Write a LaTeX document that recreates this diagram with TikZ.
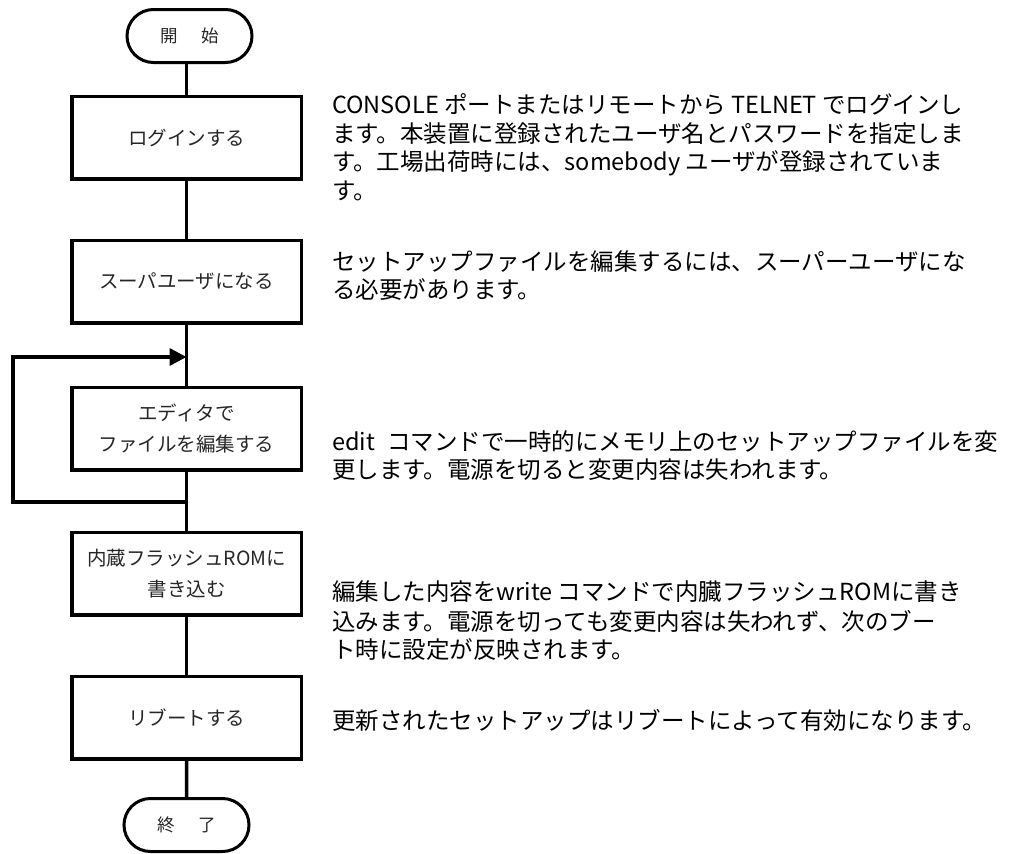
\documentclass[tikz,border=0pt]{standalone}
\usepackage{fontspec}
\setmainfont{Noto Sans CJK JP}
\usetikzlibrary{arrows.meta,shapes.misc}
\begin{document}
\begin{tikzpicture}[x=1pt,y=-1pt,
  line/.style={line width=3.5pt},
  procbox/.style={draw,line width=3.5pt,minimum width=229.5pt,minimum height=82.5pt,
     inner sep=0pt,font=\fontsize{19.5}{31}\selectfont,text=black!85,align=center},
  term/.style={draw,line width=3pt,rounded rectangle,minimum width=125pt,minimum height=53pt,
     inner sep=0pt,font=\fontsize{17.5}{20}\selectfont,text=black!85},
  desc/.style={anchor=west,inner sep=0pt,font=\fontsize{23.5}{26}\selectfont}]
\useasboundingbox (0,0) rectangle (1015,854);
\node[term] (start) at (189.5,36) {開\hspace{24pt}始};
\node[procbox] (login) at (186.5,137.5) {ログインする};
\node[procbox] (su) at (186.5,281.5) {スーパユーザになる};
\node[procbox] (edit) at (186.5,428.5) {エディタで\\ファイルを編集する};
\node[procbox] (write) at (186.5,573.5) {内蔵フラッシュROMに\\書き込む};
\node[procbox] (reboot) at (186.5,717.5) {リブートする};
\node[term] (end) at (186.5,825) {終\hspace{24pt}了};
\coordinate (j1) at (186.5,357);
\coordinate (j2) at (186.5,502);
\coordinate (lt) at (13,357);
\coordinate (lb) at (13,502);
\draw[line] (login.north) -- (login.north |- start.south);
\draw[line] (login) -- (su);
\draw[line] (su) -- (edit);
\draw[line] (edit) -- (write);
\draw[line] (write) -- (reboot);
\draw[line] (reboot) -- (end);
\draw[line,-{Triangle[length=17pt,width=17pt]}] (j2) -- (lb) -- (lt) -- (j1);
\node[desc] (t1a) at (332,104) {CONSOLE ポートまたはリモートから TELNET でログインし};
\node[desc] (t1b) at (332,134) {ます。本装置に登録されたユーザ名とパスワードを指定しま};
\node[desc] (t1c) at (332,163) {す。工場出荷時には、somebody ユーザが登録されていま};
\node[desc] (t1d) at (332,191) {す。};
\node[desc] (t2a) at (332,262) {セットアップファイルを編集するには、スーパーユーザにな};
\node[desc] (t2b) at (332,290) {る必要があります。};
\node[desc] (t3a) at (332,442) {edit\hspace{12pt}コマンドで一時的にメモリ上のセットアップファイルを変};
\node[desc] (t3b) at (332,470) {更します。電源を切ると変更内容は失われます。};
\node[desc] (t4a) at (332,592) {編集した内容をwrite コマンドで内臓フラッシュROMに書き};
\node[desc] (t4b) at (332,621) {込みます。電源を切っても変更内容は失われず、次のブー};
\node[desc] (t4c) at (332,650) {ト時に設定が反映されます。};
\node[desc] (t5a) at (332,720) {更新されたセットアップはリブートによって有効になります。};
\end{tikzpicture}
\end{document}
